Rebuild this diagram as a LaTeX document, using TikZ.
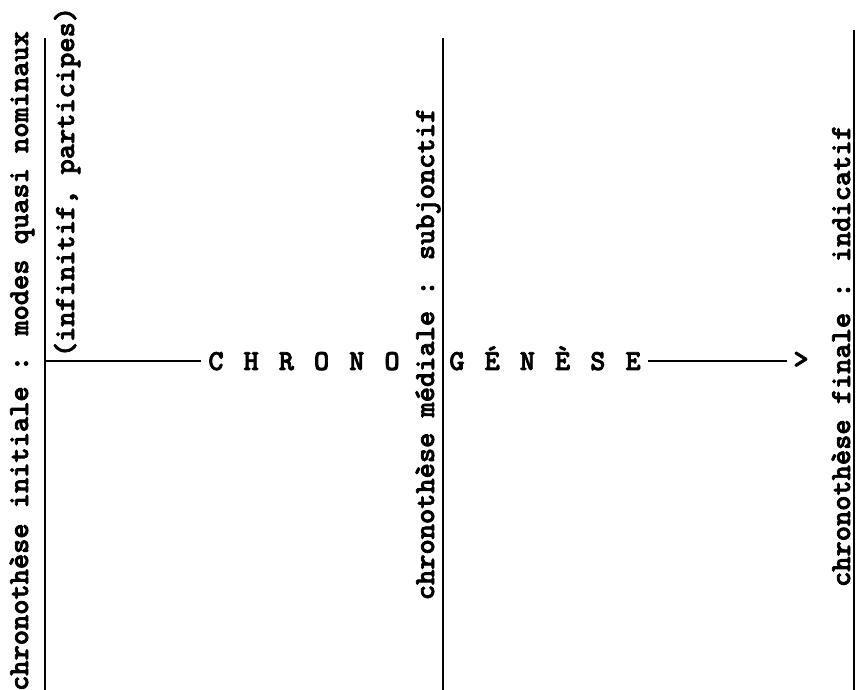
\documentclass[tikz,border=0pt]{standalone}
\usepackage{fontspec}
\newfontfamily\twfont{lmmonolt10-bold.otf}[FakeBold=2.5]
\newcommand{\lettergap}{\hspace{20pt}}
\begin{document}
\begin{tikzpicture}[
    x=1pt, y=1pt,
    axisLine/.style={line width=1.8pt},
    flowLine/.style={line width=1.2pt},
    tw/.style={font=\fontsize{29}{29}\selectfont\twfont, inner sep=0pt},
    vlabel/.style={tw, rotate=90, anchor=base},
    caps/.style={tw, anchor=base, inner sep=7pt}
]
    \useasboundingbox (0,0) rectangle (857,690);

    % --- 1. Chronothese initiale ---
    \coordinate (initTop) at (45,652);
    \coordinate (initBot) at (45,0);
    \draw[axisLine] (initTop) -- (initBot);
    \node[vlabel] (initLabel) at (28,329) {chronothèse initiale : modes quasi nominaux};
    \node[vlabel] (initNote) at (74,508) {(infinitif, participes)};

    % --- 2. Chronothese mediale ---
    \coordinate (medTop) at (443,652);
    \coordinate (medBot) at (443,0);
    \draw[axisLine] (medTop) -- (medBot);
    \node[vlabel] (medLabel) at (434,336) {chronothèse médiale : subjonctif};

    % --- 3. Chronothese finale ---
    \coordinate (finTop) at (854,660);
    \coordinate (finBot) at (854,0);
    \draw[axisLine] (finTop) -- (finBot);
    \node[vlabel] (finLabel) at (850,334) {chronothèse finale : indicatif};

    % --- 4. Chronogenese ---
    \coordinate (origin) at (45,329);
    \node[caps] (chrono) at (304,320) {C\lettergap H\lettergap R\lettergap O\lettergap N\lettergap O};
    \node[caps] (genese) at (545,320) {G\lettergap É\lettergap N\lettergap È\lettergap S\lettergap E};
    \node[tw, inner sep=6pt] (tip) at (801,330) {>};
    \draw[flowLine] (origin) -- (chrono.west |- origin);
    \draw[flowLine] (genese.east |- origin) -- (tip.west |- origin);
\end{tikzpicture}
\end{document}
